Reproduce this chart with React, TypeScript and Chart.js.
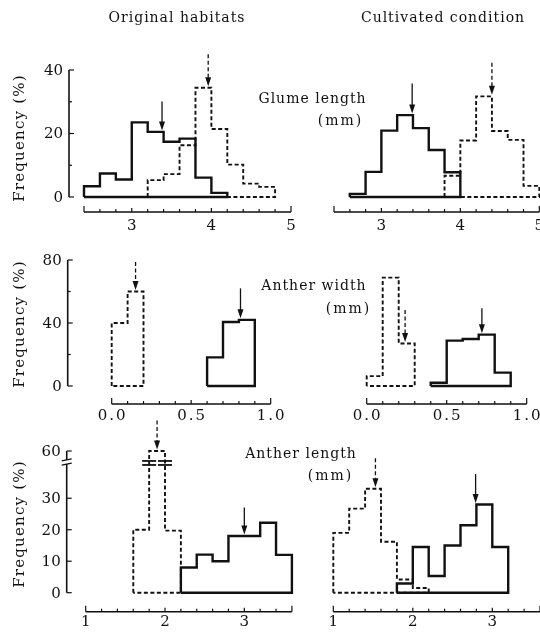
import React, { useEffect, useRef } from "react";
import { Chart, registerables } from "chart.js";

Chart.register(...registerables);

// ---------------- DATA ----------------
// Glume length (mm), bin width 0.2
const glumeBinWidth = 0.2;
const glumeOrigSolidStart = 2.4;
const glumeOrigSolid = [3.4, 7.4, 5.5, 23.5, 20.5, 17.4, 18.4, 6.1, 1.3];
const glumeOrigDashedStart = 3.2;
const glumeOrigDashed = [5.3, 7.2, 16.3, 34.4, 21.4, 10.2, 4.2, 3.2];
const glumeCultSolidStart = 2.6;
const glumeCultSolid = [1.0, 7.9, 20.9, 25.8, 21.7, 14.8, 7.8];
const glumeCultDashedStart = 3.8;
const glumeCultDashed = [6.7, 17.8, 31.7, 20.8, 18.0, 3.5];

// Anther width (mm), bin width 0.1
const widthBinWidth = 0.1;
const widthOrigDashedStart = 0.0;
const widthOrigDashed = [40, 60];
const widthOrigSolidStart = 0.6;
const widthOrigSolid = [18.2, 40.6, 42];
const widthCultDashedStart = 0.0;
const widthCultDashed = [6.3, 68.8, 27];
const widthCultSolidStart = 0.4;
const widthCultSolid = [2.1, 28.8, 29.8, 32.6, 8.5];

// Anther length (mm), bin width 0.2
const lengthBinWidth = 0.2;
const lengthOrigDashedStart = 1.6;
const lengthOrigDashed = [20, 60, 19.7];
const lengthOrigSolidStart = 2.2;
const lengthOrigSolid = [8, 12.1, 10, 18, 18, 22.2, 12];
const lengthCultDashedStart = 1.0;
const lengthCultDashed = [19, 26.7, 33, 16.2, 4.2, 1.5];
const lengthCultSolidStart = 1.8;
const lengthCultSolid = [2.9, 14.5, 5.3, 15, 21.4, 28, 14.5];

// Mean arrows: [x position, value pointed at]
const glumeOrigSolidMean = [3.38, 20.5];
const glumeOrigDashedMean = [3.96, 34.4];
const glumeCultSolidMean = [3.39, 25.8];
const glumeCultDashedMean = [4.4, 31.7];
const widthOrigSolidMean = [0.81, 42];
const widthOrigDashedMean = [0.15, 60];
const widthCultSolidMean = [0.72, 32.6];
const widthCultDashedMean = [0.24, 27];
const lengthOrigSolidMean = [3.0, 18];
const lengthOrigDashedMean = [1.9, 60];
const lengthCultSolidMean = [2.79, 28];
const lengthCultDashedMean = [1.53, 33];

// Tick labels
const glumeXLabels = [3, 4, 5];
const widthXLabels = [0, 0.5, 1.0];
const lengthXLabels = [1, 2, 3];
const glumeYTicks = [0, 10, 20, 30, 40];
const glumeYLabels = [0, 20, 40];
const widthYTicks = [0, 20, 40, 60, 80];
const widthYLabels = [0, 40, 80];
const lengthYTicks = [0, 10, 20, 30, 60];
const lengthYLabels = [0, 10, 20, 30, 60];

// --------------- CONFIG ----------------
const W = 540;
const H = 634;
const FONT = '"DejaVu Serif", "Liberation Serif", serif';
const INK = "#111";

// broken axis for anther length: values above the break are compressed
const lengthBreakMap = (v: number) => (v > 35 ? 45 - (60 - v) * 0.25 : v);
const identity = (v: number) => v;

type Series = { start: number; width: number; values: number[]; dashed: boolean };
type Arrow = { m: number[]; len: number; dashed: boolean };
type PanelCfg = {
  area: [number, number, number, number];
  xMin: number;
  xMax: number;
  yMax: number;
  xAxisEnd: number;
  xStep: number;
  xLabels: number[];
  xFmt: (v: number) => string;
  xAxisGap: number;
  xLabelGap: number;
  yAxisGap?: number;
  yTicks?: number[];
  yLabels?: number[];
  yMap: (v: number) => number;
  series: Series[];
  arrows: Arrow[];
  breaks?: number[];
};

const intFmt = (v: number) => String(v);
const decFmt = (v: number) => v.toFixed(1);

const panels: PanelCfg[] = [
  {
    area: [84, 70, 291, 197],
    xMin: 2.4, xMax: 5.0, yMax: 40, xAxisEnd: 5.0, xStep: 0.2,
    xLabels: glumeXLabels, xFmt: intFmt, xAxisGap: 15, xLabelGap: 14,
    yAxisGap: 15, yTicks: glumeYTicks, yLabels: glumeYLabels, yMap: identity,
    series: [
      { start: glumeOrigDashedStart, width: glumeBinWidth, values: glumeOrigDashed, dashed: true },
      { start: glumeOrigSolidStart, width: glumeBinWidth, values: glumeOrigSolid, dashed: false },
    ],
    arrows: [
      { m: glumeOrigSolidMean, len: 29, dashed: false },
      { m: glumeOrigDashedMean, len: 32, dashed: true },
    ],
  },
  {
    area: [334, 70, 539.3, 197],
    xMin: 2.4, xMax: 5.0, yMax: 40, xAxisEnd: 5.0, xStep: 0.2,
    xLabels: glumeXLabels, xFmt: intFmt, xAxisGap: 15, xLabelGap: 14, yMap: identity,
    series: [
      { start: glumeCultDashedStart, width: glumeBinWidth, values: glumeCultDashed, dashed: true },
      { start: glumeCultSolidStart, width: glumeBinWidth, values: glumeCultSolid, dashed: false },
    ],
    arrows: [
      { m: glumeCultSolidMean, len: 30, dashed: false },
      { m: glumeCultDashedMean, len: 32, dashed: true },
    ],
  },
  {
    area: [111.7, 260, 270.7, 386],
    xMin: 0, xMax: 1.0, yMax: 80, xAxisEnd: 1.0, xStep: 0.1,
    xLabels: widthXLabels, xFmt: decFmt, xAxisGap: 18, xLabelGap: 12,
    yAxisGap: 44, yTicks: widthYTicks, yLabels: widthYLabels, yMap: identity,
    series: [
      { start: widthOrigDashedStart, width: widthBinWidth, values: widthOrigDashed, dashed: true },
      { start: widthOrigSolidStart, width: widthBinWidth, values: widthOrigSolid, dashed: false },
    ],
    arrows: [
      { m: widthOrigDashedMean, len: 28, dashed: true },
      { m: widthOrigSolidMean, len: 30, dashed: false },
    ],
  },
  {
    area: [366.7, 260, 526.7, 386],
    xMin: 0, xMax: 1.0, yMax: 80, xAxisEnd: 1.0, xStep: 0.1,
    xLabels: widthXLabels, xFmt: decFmt, xAxisGap: 18, xLabelGap: 12, yMap: identity,
    series: [
      { start: widthCultDashedStart, width: widthBinWidth, values: widthCultDashed, dashed: true },
      { start: widthCultSolidStart, width: widthBinWidth, values: widthCultSolid, dashed: false },
    ],
    arrows: [
      { m: widthCultDashedMean, len: 32, dashed: true },
      { m: widthCultSolidMean, len: 25, dashed: false },
    ],
  },
  {
    area: [85.7, 451, 291.9, 592.7],
    xMin: 1.0, xMax: 3.6, yMax: 45, xAxisEnd: 3.6, xStep: 0.2,
    xLabels: lengthXLabels, xFmt: intFmt, xAxisGap: 19, xLabelGap: 10,
    yAxisGap: 19, yTicks: lengthYTicks, yLabels: lengthYLabels, yMap: lengthBreakMap,
    series: [
      { start: lengthOrigDashedStart, width: lengthBinWidth, values: lengthOrigDashed, dashed: true },
      { start: lengthOrigSolidStart, width: lengthBinWidth, values: lengthOrigSolid, dashed: false },
    ],
    arrows: [
      { m: lengthOrigDashedMean, len: 29, dashed: true },
      { m: lengthOrigSolidMean, len: 27, dashed: false },
    ],
    breaks: [1.8, 2.0],
  },
  {
    area: [333.3, 451, 540, 592.7],
    xMin: 1.0, xMax: 3.6, yMax: 45, xAxisEnd: 3.6, xStep: 0.2,
    xLabels: lengthXLabels, xFmt: intFmt, xAxisGap: 19, xLabelGap: 10, yMap: lengthBreakMap,
    series: [
      { start: lengthCultDashedStart, width: lengthBinWidth, values: lengthCultDashed, dashed: true },
      { start: lengthCultSolidStart, width: lengthBinWidth, values: lengthCultSolid, dashed: false },
    ],
    arrows: [
      { m: lengthCultDashedMean, len: 29, dashed: true },
      { m: lengthCultSolidMean, len: 29, dashed: false },
    ],
  },
];

function histPoints(s: Series, map: (v: number) => number) {
  const pts: { x: number; y: number }[] = [{ x: s.start, y: 0 }];
  s.values.forEach((v, i) => {
    const x0 = s.start + i * s.width;
    pts.push({ x: x0, y: map(v) });
    pts.push({ x: x0 + s.width, y: map(v) });
  });
  const end = s.start + s.values.length * s.width;
  pts.push({ x: end, y: 0 });
  pts.push({ x: s.start, y: 0 });
  return pts;
}

function setSpacing(ctx: any, px: number) {
  if ("letterSpacing" in ctx) ctx.letterSpacing = px + "px";
}

function makeAxesPlugin(cfg: PanelCfg) {
  return {
    id: "paperAxes",
    afterDatasetsDraw(chart: any) {
      const ctx = chart.ctx as CanvasRenderingContext2D;
      const xs = chart.scales.x;
      const ys = chart.scales.y;
      const y0 = ys.getPixelForValue(0);
      ctx.save();
      ctx.strokeStyle = INK;
      ctx.fillStyle = INK;
      ctx.setLineDash([]);

      // ----- X axis -----
      const axY = y0 + cfg.xAxisGap;
      const xa = xs.getPixelForValue(cfg.xMin);
      const xb = xs.getPixelForValue(cfg.xAxisEnd);
      ctx.lineWidth = 1.6;
      ctx.beginPath();
      ctx.moveTo(xa, axY);
      ctx.lineTo(Math.min(xb, W + 2), axY);
      ctx.stroke();
      const n = Math.round((cfg.xAxisEnd - cfg.xMin) / cfg.xStep);
      ctx.lineWidth = 1.2;
      for (let i = 0; i <= n; i++) {
        const v = cfg.xMin + i * cfg.xStep;
        const px = xs.getPixelForValue(v);
        const isEnd = i === 0 || i === n;
        const isLab = cfg.xLabels.some((l) => Math.abs(l - v) < 1e-6);
        const len = isEnd ? 6 : isLab ? 4 : 3;
        ctx.beginPath();
        ctx.moveTo(px, axY);
        ctx.lineTo(px, axY - len);
        ctx.stroke();
      }
      ctx.font = "15px " + FONT;
      ctx.textAlign = "center";
      ctx.textBaseline = "middle";
      setSpacing(ctx, cfg.xFmt === decFmt ? 2 : 0);
      cfg.xLabels.forEach((l) => {
        const t = cfg.xFmt(l);
        const off = cfg.xFmt === decFmt ? 1 : 0;
        ctx.fillText(t, xs.getPixelForValue(l) + off, axY + cfg.xLabelGap);
      });
      setSpacing(ctx, 0);

      // ----- Y axis -----
      if (cfg.yTicks && cfg.yLabels && cfg.yAxisGap !== undefined) {
        const axX = xs.getPixelForValue(cfg.xMin) - cfg.yAxisGap;
        const top = ys.getPixelForValue(cfg.yMap(cfg.yTicks[cfg.yTicks.length - 1]));
        ctx.lineWidth = 1.6;
        ctx.beginPath();
        ctx.moveTo(axX, y0);
        ctx.lineTo(axX, top);
        ctx.stroke();
        ctx.lineWidth = 1.2;
        cfg.yTicks.forEach((t) => {
          const py = ys.getPixelForValue(cfg.yMap(t));
          const lab = cfg.yLabels!.includes(t);
          ctx.beginPath();
          ctx.moveTo(axX, py);
          ctx.lineTo(axX + (lab ? 5 : 3), py);
          ctx.stroke();
        });
        ctx.font = "15px " + FONT;
        ctx.textAlign = "right";
        ctx.textBaseline = "middle";
        cfg.yLabels.forEach((t) => {
          const py = ys.getPixelForValue(cfg.yMap(t));
          ctx.fillText(String(t), axX - 6, py + 1);
        });
        if (cfg.breaks) {
          // break symbol on the y axis
          const pb = ys.getPixelForValue(41.5);
          ctx.fillStyle = "#fff";
          ctx.fillRect(axX - 4, pb - 2, 8, 4);
          ctx.fillStyle = INK;
          ctx.lineWidth = 1.3;
          [-2.2, 2.2].forEach((d) => {
            ctx.beginPath();
            ctx.moveTo(axX - 5, pb + d + 1);
            ctx.lineTo(axX + 5, pb + d - 1);
            ctx.stroke();
          });
        }
      }

      // ----- break marks on bars -----
      if (cfg.breaks) {
        const pb = ys.getPixelForValue(41.2);
        cfg.breaks.forEach((bx) => {
          const px = xs.getPixelForValue(bx);
          ctx.lineWidth = 1.8;
          [-2, 2].forEach((d) => {
            ctx.beginPath();
            ctx.moveTo(px - 7, pb + d);
            ctx.lineTo(px + 7, pb + d);
            ctx.stroke();
          });
        });
      }

      // ----- mean arrows -----
      cfg.arrows.forEach((a) => {
        const px = xs.getPixelForValue(a.m[0]);
        const tip = ys.getPixelForValue(cfg.yMap(a.m[1])) - 1.5;
        const tail = tip - a.len;
        const headH = 9;
        ctx.lineWidth = 1.3;
        ctx.setLineDash(a.dashed ? [4, 2.5] : []);
        ctx.beginPath();
        ctx.moveTo(px, tail);
        ctx.lineTo(px, tip - headH + 1);
        ctx.stroke();
        ctx.setLineDash([]);
        ctx.beginPath();
        ctx.moveTo(px - 3, tip - headH);
        ctx.lineTo(px + 3, tip - headH);
        ctx.lineTo(px, tip);
        ctx.closePath();
        ctx.fill();
      });
      ctx.restore();
    },
  };
}

function Panel({ cfg }: { cfg: PanelCfg }) {
  const ref = useRef<HTMLCanvasElement>(null);
  useEffect(() => {
    if (!ref.current) return;
    const [l, t, r, b] = cfg.area;
    const chart = new Chart(ref.current, {
      type: "scatter",
      data: {
        datasets: cfg.series.map((s) => ({
          data: histPoints(s, cfg.yMap),
          showLine: true,
          borderColor: INK,
          backgroundColor: INK,
          borderWidth: s.dashed ? 1.9 : 2.4,
          borderDash: s.dashed ? [4, 2.5] : [],
          borderJoinStyle: "miter" as const,
          borderCapStyle: "butt" as const,
          pointRadius: 0,
          pointHoverRadius: 0,
          fill: false,
          tension: 0,
          clip: false as any,
        })),
      },
      options: {
        responsive: false,
        animation: false,
        events: [],
        layout: { padding: { left: l, top: t, right: W - r, bottom: H - b } },
        plugins: { legend: { display: false }, tooltip: { enabled: false }, title: { display: false } },
        scales: {
          x: { type: "linear", min: cfg.xMin, max: cfg.xMax, display: false },
          y: { type: "linear", min: 0, max: cfg.yMax, display: false },
        },
      },
      plugins: [makeAxesPlugin(cfg)],
    });
    return () => chart.destroy();
  }, [cfg]);
  return (
    <canvas
      ref={ref}
      width={W}
      height={H}
      style={{ position: "absolute", left: 0, top: 0, width: W, height: H, pointerEvents: "none" }}
    />
  );
}

const textBase: React.CSSProperties = {
  position: "absolute",
  fontFamily: FONT,
  fontSize: 14,
  color: INK,
  whiteSpace: "nowrap",
  letterSpacing: "1px",
  lineHeight: 1,
  transform: "translate(-50%, -50%)",
};

function Label({ x, y, text, size, spacing }: { x: number; y: number; text: string; size?: number; spacing?: number }) {
  return (
    <div style={{ ...textBase, left: x, top: y, fontSize: size ?? 14, letterSpacing: (spacing ?? 1) + "px" }}>{text}</div>
  );
}

function YTitle({ y }: { y: number }) {
  return (
    <div
      style={{
        ...textBase,
        left: 19,
        top: y,
        fontSize: 15,
        letterSpacing: "1.2px",
        transform: "translate(-50%, -50%) rotate(-90deg)",
      }}
    >
      Frequency (%)
    </div>
  );
}

export default function App() {
  return (
    <div style={{ position: "absolute", left: 0, top: 0, width: W, height: H, background: "#fff", overflow: "hidden" }}>
      {panels.map((p, i) => (
        <Panel key={i} cfg={p} />
      ))}
      <Label x={177} y={17} text="Original habitats" />
      <Label x={443} y={17} text="Cultivated condition" />
      <Label x={312.5} y={98} text="Glume length" />
      <Label x={340.5} y={120} text="(mm)" spacing={2} />
      <Label x={314} y={285} text="Anther width" />
      <Label x={348.5} y={308} text="(mm)" spacing={2} />
      <Label x={301} y={453} text="Anther length" />
      <Label x={330.5} y={475} text="(mm)" spacing={2} />
      <YTitle y={138} />
      <YTitle y={324} />
      <YTitle y={524} />
    </div>
  );
}
